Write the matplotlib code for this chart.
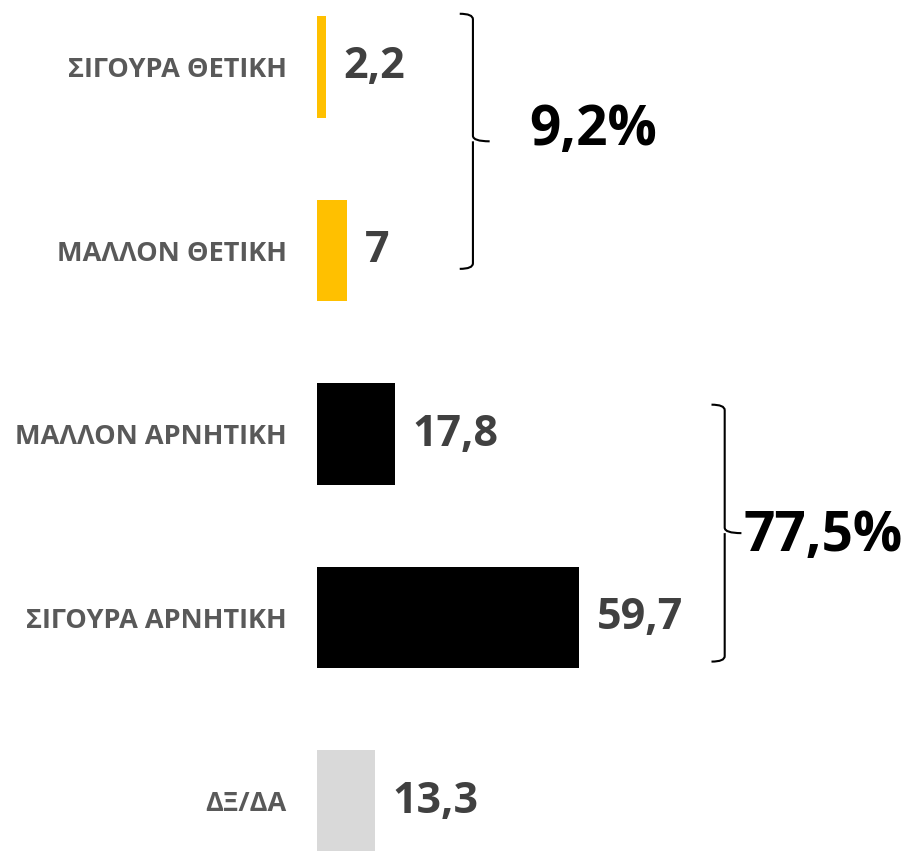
import matplotlib
matplotlib.use("Agg")
import matplotlib.pyplot as plt
from matplotlib.path import Path
from matplotlib.patches import PathPatch

plt.rcParams['font.family'] = ['Open Sans', 'DejaVu Sans']

# dados
categorias = ["ΣΙΓΟΥΡΑ ΘΕΤΙΚΗ", "ΜΑΛΛΟΝ ΘΕΤΙΚΗ", "ΜΑΛΛΟΝ ΑΡΝΗΤΙΚΗ",
              "ΣΙΓΟΥΡΑ ΑΡΝΗΤΙΚΗ", "ΔΞ/ΔΑ"]
valores = [2.2, 7, 17.8, 59.7, 13.3]
cores = ["#FFC000", "#FFC000", "#000000", "#000000", "#D9D9D9"]
rotulos = ["2,2", "7", "17,8", "59,7", "13,3"]

# grupos com chave: (primeira barra, última barra, texto)
grupos = [(0, 1, "9,2%"), (2, 3, "77,5%")]
grupo_x = [35.5, 92.7]
grupo_y = [(-0.29, 0.10), (-0.16, 0.24)]
# deslocamento do texto do total (x, y)
grupo_txt = [(12.8, -0.06), (4.2, 0.02)]

fig = plt.figure(figsize=(9.10, 8.51), dpi=100)
ax = fig.add_axes([0.348, 0, 0.652, 1])

pos = list(range(len(categorias)))
ax.barh(pos, valores, height=0.555, color=cores)

for p, v, r in zip(pos, valores, rotulos):
    ax.text(v + 3.9, p, r, va="center", ha="left", fontsize=31,
            fontweight="bold", color="#404040")

ax.set_xlim(0, 134.8)
ax.set_ylim(4.272, -0.365)
ax.set_yticks(pos)
ax.set_yticklabels(categorias, fontsize=19.5, fontweight="bold", color="#595959")
ax.tick_params(axis="y", length=0, pad=21.6)
ax.set_xticks([])
for s in ax.spines.values():
    s.set_visible(False)


def chave(x, y0, y1, larg=3.0, ponta=3.8, r=0.03):
    # chave "}" desenhada com curvas
    ym = (y0 + y1) / 2
    verts = [(x - larg, y0), (x, y0), (x, y0 + r),
             (x, ym - r), (x, ym), (x + ponta, ym),
             (x, ym), (x, ym + r),
             (x, y1 - r), (x, y1), (x - larg, y1)]
    codes = [Path.MOVETO, Path.CURVE3, Path.CURVE3,
             Path.LINETO, Path.CURVE3, Path.LINETO,
             Path.MOVETO, Path.CURVE3,
             Path.LINETO, Path.CURVE3, Path.CURVE3]
    ax.add_patch(PathPatch(Path(verts, codes), fill=False, lw=1.5,
                           edgecolor="black", clip_on=False))


for (a, b, txt), gx, (d0, d1), (tx, ty) in zip(grupos, grupo_x, grupo_y, grupo_txt):
    y0, y1 = a + d0, b + d1
    chave(gx, y0, y1)
    ax.text(gx + tx, (y0 + y1) / 2 + ty, txt,
            va="center", ha="left", fontsize=39.5, fontweight="bold", color="black")

fig.savefig("out.png", dpi=100)
